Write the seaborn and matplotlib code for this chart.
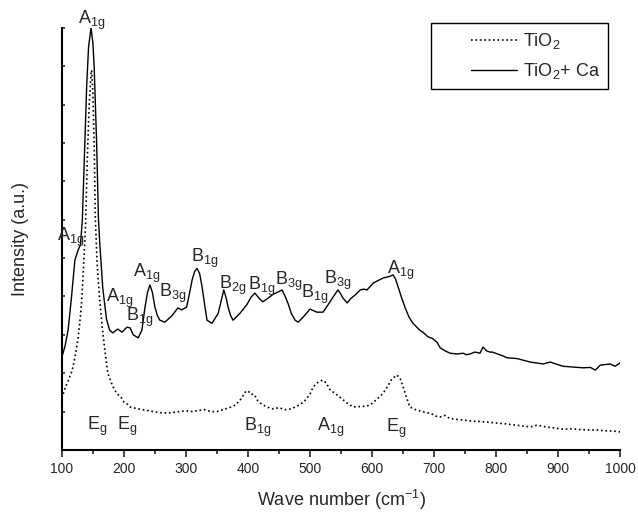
import numpy as np
import pandas as pd
import seaborn as sns
import matplotlib.pyplot as plt

# TiO2 + Ca (solid)
wn_ca = [100, 105, 110, 115, 121, 126, 130, 133, 137, 140, 143, 147, 150, 152, 156, 159,
         161, 166, 172, 177, 182, 190, 197, 205, 210, 215, 223, 229, 234, 238, 242, 246,
         250, 254, 258, 266, 277, 287, 293, 301, 306, 310, 314, 318, 322, 326, 330, 334,
         342, 352, 357, 361, 365, 368, 372, 376, 387, 398, 405, 411, 418, 424, 432, 440,
         449, 455, 460, 465, 470, 476, 481, 489, 500, 511, 521, 529, 537, 545, 549, 553,
         560, 566, 573, 581, 587, 592, 602, 618, 628, 634, 638, 642, 647, 653, 660, 666,
         672, 677, 682, 690, 698, 705, 710, 718, 726, 737, 747, 752, 758, 766, 774, 779,
         785, 790, 794, 811, 818, 834, 855, 876, 887, 908, 925, 940, 952, 960, 968, 984,
         992, 1000]
int_ca = [2.42, 2.7, 3.12, 3.9, 4.95, 5.2, 5.35, 6.0, 8.0, 9.5, 10.5, 11.0, 10.6, 10.0, 8.0, 6.0,
          5.4, 4.2, 3.4, 3.12, 3.05, 3.15, 3.07, 3.2, 3.18, 3.0, 2.92, 3.12, 3.72, 4.1, 4.3, 4.1,
          3.72, 3.5, 3.38, 3.33, 3.49, 3.7, 3.65, 3.72, 4.1, 4.43, 4.65, 4.73, 4.6, 4.25, 3.8, 3.38,
          3.3, 3.56, 3.9, 4.17, 3.95, 3.72, 3.5, 3.38, 3.56, 3.78, 3.98, 4.09, 3.95, 3.86, 3.95, 4.05,
          4.12, 4.17, 4.0, 3.8, 3.55, 3.38, 3.33, 3.46, 3.67, 3.59, 3.59, 3.78, 3.98, 4.17, 4.08, 3.96,
          3.83, 3.95, 4.04, 4.17, 4.19, 4.17, 4.35, 4.48, 4.52, 4.56, 4.45, 4.25, 4.0, 3.72, 3.45, 3.3,
          3.2, 3.12, 3.07, 2.95, 2.9, 2.8, 2.66, 2.58, 2.52, 2.5, 2.52, 2.48, 2.5, 2.55, 2.52, 2.68,
          2.58, 2.55, 2.55, 2.45, 2.4, 2.38, 2.29, 2.24, 2.29, 2.18, 2.16, 2.14, 2.15, 2.08, 2.21, 2.24,
          2.18, 2.27]

# TiO2 (dotted)
wn_ti = [100, 105, 110, 115, 118, 122, 126, 130, 132, 135, 138, 141, 144, 147, 148, 150,
         152, 154, 157, 161, 165, 170, 174, 177, 181, 185, 190, 195, 200, 205, 210, 220,
         230, 240, 250, 260, 270, 280, 290, 300, 310, 320, 330, 340, 350, 360, 370, 380,
         390, 395, 400, 405, 410, 415, 420, 430, 440, 450, 460, 470, 480, 490, 500, 505,
         512, 520, 526, 533, 540, 550, 560, 569, 580, 590, 597, 605, 612, 618, 625, 632,
         640, 645, 651, 656, 661, 670, 683, 695, 703, 710, 718, 725, 735, 747, 760, 775,
         790, 801, 815, 830, 845, 855, 865, 871, 880, 895, 908, 920, 935, 950, 962, 975,
         990, 1000]
int_ti = [1.35, 1.6, 1.8, 2.0, 2.17, 2.5, 2.9, 3.5, 3.9, 4.8, 5.8, 7.6, 9.0, 9.8, 9.9, 9.3,
          8.0, 6.0, 4.8, 3.9, 3.2, 2.5, 2.0, 1.87, 1.7, 1.56, 1.45, 1.38, 1.25, 1.2, 1.12, 1.08,
          1.05, 1.02, 0.99, 0.97, 0.96, 0.98, 1.0, 1.02, 1.0, 1.03, 1.05, 1.0, 1.0, 1.05, 1.1, 1.17,
          1.35, 1.5, 1.54, 1.45, 1.45, 1.3, 1.22, 1.12, 1.07, 1.1, 1.05, 1.07, 1.15, 1.25, 1.45, 1.64,
          1.75, 1.82, 1.75, 1.55, 1.48, 1.35, 1.22, 1.12, 1.13, 1.14, 1.17, 1.28, 1.38, 1.48, 1.65, 1.85,
          1.95, 1.88, 1.6, 1.35, 1.12, 1.05, 0.99, 0.95, 0.88, 0.86, 0.9, 0.82, 0.8, 0.78, 0.75, 0.74,
          0.72, 0.7, 0.68, 0.65, 0.62, 0.6, 0.64, 0.63, 0.6, 0.57, 0.54, 0.55, 0.53, 0.52, 0.52, 0.5,
          0.49, 0.47]

# peak labels (text, wavenumber, intensity)
lbl_text = ['A$_{1g}$', 'A$_{1g}$', 'A$_{1g}$', 'B$_{1g}$', 'A$_{1g}$', 'B$_{3g}$', 'B$_{1g}$',
            'B$_{2g}$', 'B$_{1g}$', 'B$_{3g}$', 'B$_{1g}$', 'B$_{3g}$', 'A$_{1g}$',
            'E$_g$', 'E$_g$', 'B$_{1g}$', 'A$_{1g}$', 'E$_g$']
lbl_x = [148, 115, 194, 225, 237, 279, 330, 376, 422, 466, 507, 545, 646,
         157, 205, 415, 533, 639]
lbl_y = [11.2, 5.55, 3.96, 3.46, 4.6, 4.08, 5.0, 4.3, 4.27, 4.38, 4.04, 4.42, 4.69,
         0.62, 0.62, 0.58, 0.58, 0.55]

sns.set_style("ticks")
plt.rcParams['font.family'] = ['Liberation Sans', 'DejaVu Sans']
plt.rcParams['mathtext.fontset'] = 'custom'
plt.rcParams['mathtext.rm'] = 'Liberation Sans'
plt.rcParams['mathtext.it'] = 'Liberation Sans'

fig = plt.figure(figsize=(6.38, 5.25), dpi=100)
ax = fig.add_axes([0.097, 0.143, 0.875, 0.804])

df_ti = pd.DataFrame({'wn': wn_ti, 'I': int_ti})
df_ca = pd.DataFrame({'wn': wn_ca, 'I': int_ca})
sns.lineplot(data=df_ti, x='wn', y='I', ax=ax, color='black', lw=1.2,
             linestyle=':', label='TiO$_2$')
sns.lineplot(data=df_ca, x='wn', y='I', ax=ax, color='black', lw=1.0,
             label='TiO$_2$+ Ca')

for t, x, y in zip(lbl_text, lbl_x, lbl_y):
    ax.text(x, y, t, ha='center', va='center', fontsize=13, clip_on=False)

ax.set_xlim(100, 1000)
ax.set_ylim(0, 11)
ax.set_xticks(np.arange(100, 1001, 100))
ax.set_xticks(np.arange(150, 1000, 100), minor=True)
ax.set_yticks(np.arange(0, 12, 1))
ax.set_yticklabels([])
ax.tick_params(axis='x', which='major', length=5, width=1.2, labelsize=10, direction='out', pad=4)
ax.tick_params(axis='x', which='minor', length=3, width=1.2, direction='out')
ax.tick_params(axis='y', length=2, width=1.2, direction='in')
sns.despine(ax=ax)
for s in ['left', 'bottom']:
    ax.spines[s].set_linewidth(1.5)
    ax.spines[s].set_color('black')

ax.set_xlabel('Wave number (cm$^{-1}$)', fontsize=13, labelpad=8)
ax.set_ylabel('Intensity (a.u.)', fontsize=13, labelpad=20)

leg = ax.legend(loc='upper right', bbox_to_anchor=(0.953, 0.956), bbox_transform=fig.transFigure,
                borderaxespad=0, fontsize=13, handlelength=4.3, handletextpad=0.3,
                labelspacing=0.55, borderpad=0.45, fancybox=False, framealpha=1,
                edgecolor='black', frameon=True)
leg.get_frame().set_linewidth(1.0)
# leave blank space left of the legend lines, like the original
for ln in leg.get_lines():
    xd = np.asarray(ln.get_xdata(), dtype=float)
    yd = np.asarray(ln.get_ydata(), dtype=float)
    x0, x1 = xd.min(), xd.max()
    ln.set_data([x0 + 0.41 * (x1 - x0), x1], [yd[0], yd[0]])

fig.savefig('out.png', dpi=100)
